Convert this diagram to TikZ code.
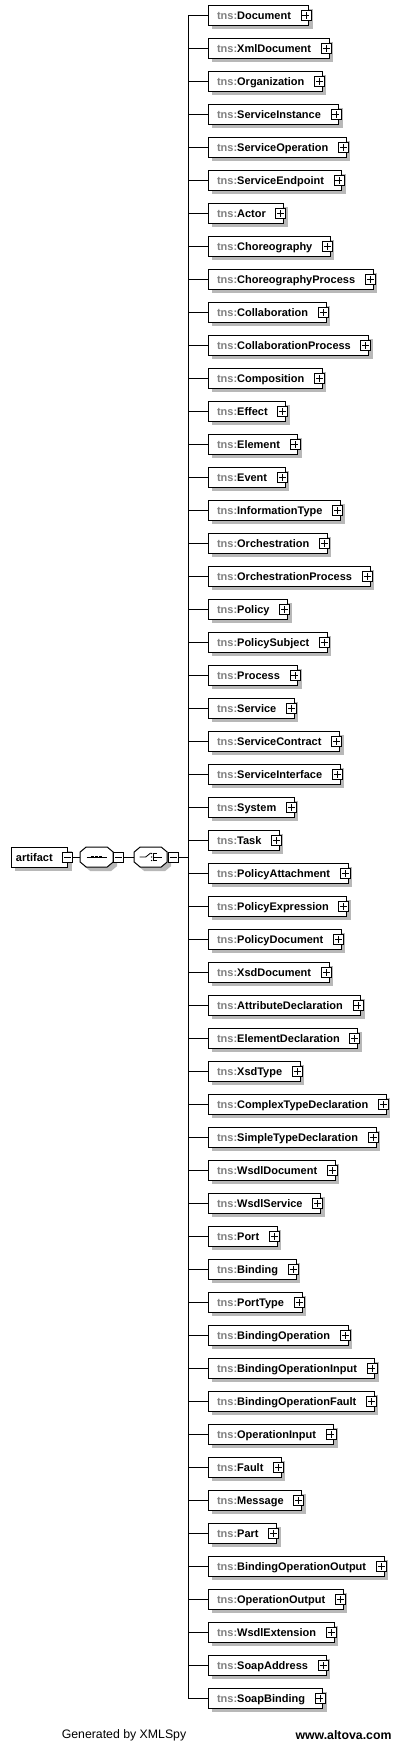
\documentclass[tikz,border=0pt]{standalone}
\usepackage{fontspec}
\setmainfont{Liberation Sans}
\usepackage{tikz}
\usetikzlibrary{positioning}

\definecolor{tnsgray}{RGB}{128,128,128}
\definecolor{shadowgray}{RGB}{184,184,184}

% element label: grey prefix, room for the plus box on the right
\newcommand{\tns}[1]{\hspace*{9pt}\textcolor{tnsgray}{tns:}#1\hspace*{18pt}}

\begin{document}
\begin{tikzpicture}[x=1pt, y=1pt, line width=1pt, node distance=13pt,
    every node/.style={font=\fontsize{11}{13}\selectfont\bfseries},
    shade box/.style={preaction={fill=shadowgray, transform canvas={xshift=4pt, yshift=-4pt}}},
    elem/.style={draw, fill=white, anchor=west, inner sep=0pt, outer sep=0pt,
        minimum height=20pt, text height=8pt, text depth=0pt, shade box},
    under/.style={below=of #1.south west, anchor=north west},
    compositor/.style={inner sep=0pt, outer sep=0pt, minimum width=33pt, minimum height=20pt},
    plusbox/.style={draw, fill=white, inner sep=0pt, outer sep=0pt, minimum size=10pt,
        line width=0.8pt,
        path picture={\draw ([xshift=-3.5pt]path picture bounding box.center) -- ([xshift=3.5pt]path picture bounding box.center)
            ([yshift=-3.5pt]path picture bounding box.center) -- ([yshift=3.5pt]path picture bounding box.center);}},
    minusbox/.style={draw, fill=white, inner sep=0pt, outer sep=0pt, minimum size=10pt,
        line width=0.8pt,
        path picture={\draw ([xshift=-3.5pt]path picture bounding box.center) -- ([xshift=3.5pt]path picture bounding box.center);}}]

    \fill[white] (0,0) rectangle (402,-1743);
    \useasboundingbox (0,0) rectangle (402,-1743);

    % root element and compositors
    \node[elem] (artifact) at (11,-857) {\hspace*{5pt}artifact\hspace*{15pt}};
    \node[compositor, right=12.5pt of artifact] (seq) {};
    \node[compositor, right=21pt of seq] (chc) {};
    \foreach \c in {seq, chc}
        \filldraw[fill=white, shade box] ([xshift=6pt]\c.north west) -- ([xshift=-6pt]\c.north east)
            -- ([yshift=-5pt]\c.north east) -- ([yshift=5pt]\c.south east)
            -- ([xshift=-6pt]\c.south east) -- ([xshift=6pt]\c.south west)
            -- ([yshift=5pt]\c.south west) -- ([yshift=-5pt]\c.north west) -- cycle;
    \node[minusbox] (am) at (artifact.east) {};
    \node[minusbox, right=0pt of seq] (sm) {};
    \node[minusbox, right=1pt of chc] (cm) {};
    \coordinate[right=10pt of cm] (fork);

    \path (am) edge (seq);
    \path (sm) edge (chc);
    \path (cm) edge (fork);

    % sequence symbol
    \draw[line width=0.8pt] ([xshift=-10pt]seq.center) -- ([xshift=10pt]seq.center);
    \foreach \dx in {-4,0,4}
        \fill ([xshift=\dx pt]seq.center) +(-1.4,-1.4) rectangle +(1.4,1.4);

    % choice symbol
    \draw[line width=0.8pt] ([xshift=-11pt]chc.center) -- ([xshift=-5pt]chc.center) -- ++(5,4);
    \draw[line width=0.8pt] ([xshift=3pt,yshift=-4pt]chc.center) -- ++(0,8);
    \foreach \dy in {-3.5,0,3.5} {
        \draw[line width=0.8pt] ([xshift=3pt,yshift=\dy pt]chc.center) -- ++(3,0);
        \fill ([xshift=1pt,yshift=\dy pt]chc.center) circle (0.7);
    }
    \draw[line width=0.8pt] ([xshift=6pt]chc.center) -- ([xshift=11pt]chc.center);

    % child elements
    \node[elem] (e1) at (208,-15) {\tns{Document}};
    \node[elem, under=e1] (e2) {\tns{XmlDocument}};
    \node[elem, under=e2] (e3) {\tns{Organization}};
    \node[elem, under=e3] (e4) {\tns{ServiceInstance}};
    \node[elem, under=e4] (e5) {\tns{ServiceOperation}};
    \node[elem, under=e5] (e6) {\tns{ServiceEndpoint}};
    \node[elem, under=e6] (e7) {\tns{Actor}};
    \node[elem, under=e7] (e8) {\tns{Choreography}};
    \node[elem, under=e8] (e9) {\tns{ChoreographyProcess}};
    \node[elem, under=e9] (e10) {\tns{Collaboration}};
    \node[elem, under=e10] (e11) {\tns{CollaborationProcess}};
    \node[elem, under=e11] (e12) {\tns{Composition}};
    \node[elem, under=e12] (e13) {\tns{Effect}};
    \node[elem, under=e13] (e14) {\tns{Element}};
    \node[elem, under=e14] (e15) {\tns{Event}};
    \node[elem, under=e15] (e16) {\tns{InformationType}};
    \node[elem, under=e16] (e17) {\tns{Orchestration}};
    \node[elem, under=e17] (e18) {\tns{OrchestrationProcess}};
    \node[elem, under=e18] (e19) {\tns{Policy}};
    \node[elem, under=e19] (e20) {\tns{PolicySubject}};
    \node[elem, under=e20] (e21) {\tns{Process}};
    \node[elem, under=e21] (e22) {\tns{Service}};
    \node[elem, under=e22] (e23) {\tns{ServiceContract}};
    \node[elem, under=e23] (e24) {\tns{ServiceInterface}};
    \node[elem, under=e24] (e25) {\tns{System}};
    \node[elem, under=e25] (e26) {\tns{Task}};
    \node[elem, under=e26] (e27) {\tns{PolicyAttachment}};
    \node[elem, under=e27] (e28) {\tns{PolicyExpression}};
    \node[elem, under=e28] (e29) {\tns{PolicyDocument}};
    \node[elem, under=e29] (e30) {\tns{XsdDocument}};
    \node[elem, under=e30] (e31) {\tns{AttributeDeclaration}};
    \node[elem, under=e31] (e32) {\tns{ElementDeclaration}};
    \node[elem, under=e32] (e33) {\tns{XsdType}};
    \node[elem, under=e33] (e34) {\tns{ComplexTypeDeclaration}};
    \node[elem, under=e34] (e35) {\tns{SimpleTypeDeclaration}};
    \node[elem, under=e35] (e36) {\tns{WsdlDocument}};
    \node[elem, under=e36] (e37) {\tns{WsdlService}};
    \node[elem, under=e37] (e38) {\tns{Port}};
    \node[elem, under=e38] (e39) {\tns{Binding}};
    \node[elem, under=e39] (e40) {\tns{PortType}};
    \node[elem, under=e40] (e41) {\tns{BindingOperation}};
    \node[elem, under=e41] (e42) {\tns{BindingOperationInput}};
    \node[elem, under=e42] (e43) {\tns{BindingOperationFault}};
    \node[elem, under=e43] (e44) {\tns{OperationInput}};
    \node[elem, under=e44] (e45) {\tns{Fault}};
    \node[elem, under=e45] (e46) {\tns{Message}};
    \node[elem, under=e46] (e47) {\tns{Part}};
    \node[elem, under=e47] (e48) {\tns{BindingOperationOutput}};
    \node[elem, under=e48] (e49) {\tns{OperationOutput}};
    \node[elem, under=e49] (e50) {\tns{WsdlExtension}};
    \node[elem, under=e50] (e51) {\tns{SoapAddress}};
    \node[elem, under=e51] (e52) {\tns{SoapBinding}};

    % trunk and branches
    \draw (fork |- e1.west) -- (fork |- e52.west);
    \foreach \i in {1,...,52} {
        \draw (fork |- e\i.west) -- (e\i.west);
        \node[plusbox] (p\i) at ([xshift=-3pt]e\i.east) {};
    }

    % footer
    \node[font=\fontsize{12.3}{14}\selectfont] (gen) at (124,-1735) {Generated by XMLSpy};
    \node[font=\fontsize{12.3}{14}\selectfont\bfseries] (web) at (343.5,-1735) {www.altova.com};
\end{tikzpicture}
\end{document}
